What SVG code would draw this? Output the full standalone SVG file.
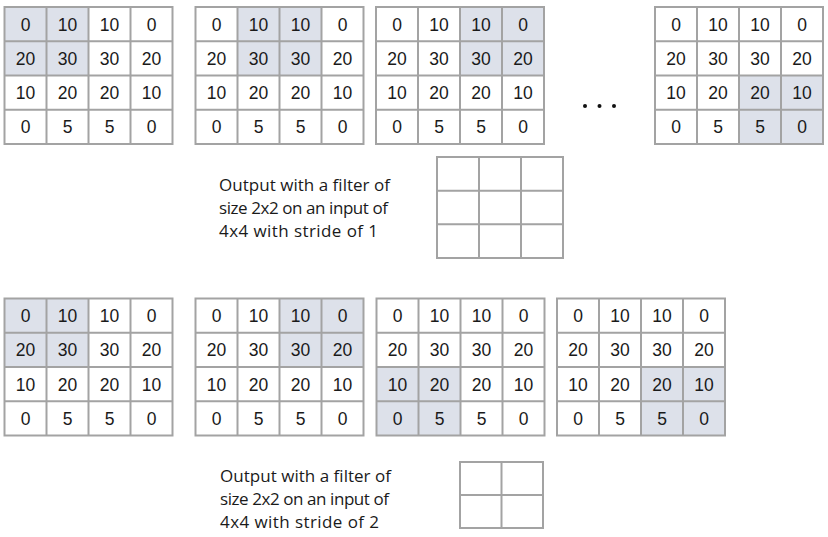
<svg xmlns="http://www.w3.org/2000/svg" xmlns:xlink="http://www.w3.org/1999/xlink" width="828" height="537" viewBox="0 0 828 537">
<style>
.bg{fill:#ffffff}
.sh{fill:#dde1ea}
.ln{fill:none;stroke:#a3a3a3;stroke-width:2}
.n{font-family:"Liberation Sans",Arial,sans-serif;font-size:17.5px;fill:#1a1a1a;text-anchor:middle}
.lb{font-family:"Open Sans","Noto Sans",sans-serif;font-size:17px;fill:#1a1a1a}
</style>
<defs>
<g id="g4">
<rect class="ln" x="0" y="0" width="168" height="137"/>
<path class="ln" d="M42,0V137M84,0V137M126,0V137M0,34.25H168M0,68.5H168M0,102.75H168"/>
</g>
<g id="nums">
<text class="n" x="21" y="23.5">0</text><text class="n" x="63" y="23.5">10</text><text class="n" x="105" y="23.5">10</text><text class="n" x="147" y="23.5">0</text>
<text class="n" x="21" y="57.5">20</text><text class="n" x="63" y="57.5">30</text><text class="n" x="105" y="57.5">30</text><text class="n" x="147" y="57.5">20</text>
<text class="n" x="21" y="92">10</text><text class="n" x="63" y="92">20</text><text class="n" x="105" y="92">20</text><text class="n" x="147" y="92">10</text>
<text class="n" x="21" y="126">0</text><text class="n" x="63" y="126">5</text><text class="n" x="105" y="126">5</text><text class="n" x="147" y="126">0</text>
</g>
</defs>
<rect width="828" height="537" fill="#ffffff"/>

<g id="top1" transform="translate(4.5,7)">
<rect class="sh" x="0" y="0" width="84" height="68.5"/>
<use xlink:href="#nums"/><use xlink:href="#g4"/>
</g>
<g id="top2" transform="translate(195.5,7)">
<rect class="sh" x="42" y="0" width="84" height="68.5"/>
<use xlink:href="#nums"/><use xlink:href="#g4"/>
</g>
<g id="top3" transform="translate(376,7)">
<rect class="sh" x="84" y="0" width="84" height="68.5"/>
<use xlink:href="#nums"/><use xlink:href="#g4"/>
</g>
<g id="ellipsis">
<circle cx="585" cy="106" r="2" fill="#111"/>
<circle cx="599.5" cy="106" r="2" fill="#111"/>
<circle cx="614" cy="106" r="2" fill="#111"/>
</g>
<g id="top4" transform="translate(655,7)">
<rect class="sh" x="84" y="68.5" width="84" height="68.5"/>
<use xlink:href="#nums"/><use xlink:href="#g4"/>
</g>

<g id="label1">
<text class="lb" x="219" y="191" textLength="171">Output with a filter of</text>
<text class="lb" x="219" y="214" textLength="169">size 2x2 on an input of</text>
<text class="lb" x="219" y="237" textLength="159">4x4 with stride of 1</text>
</g>
<g id="out3x3">
<rect class="ln" x="437" y="157" width="126" height="101"/>
<path class="ln" d="M479,157V258M521,157V258M437,190.7H563M437,224.3H563"/>
</g>

<g id="bot1" transform="translate(4.5,298.5)">
<rect class="sh" x="0" y="0" width="84" height="68.5"/>
<use xlink:href="#nums"/><use xlink:href="#g4"/>
</g>
<g id="bot2" transform="translate(195.5,298.5)">
<rect class="sh" x="84" y="0" width="84" height="68.5"/>
<use xlink:href="#nums"/><use xlink:href="#g4"/>
</g>
<g id="bot3" transform="translate(376.5,298.5)">
<rect class="sh" x="0" y="68.5" width="84" height="68.5"/>
<use xlink:href="#nums"/><use xlink:href="#g4"/>
</g>
<g id="bot4" transform="translate(557,298.5)">
<rect class="sh" x="84" y="68.5" width="84" height="68.5"/>
<use xlink:href="#nums"/><use xlink:href="#g4"/>
</g>

<g id="label2">
<text class="lb" x="220" y="482" textLength="171">Output with a filter of</text>
<text class="lb" x="220" y="505" textLength="169">size 2x2 on an input of</text>
<text class="lb" x="220" y="528" textLength="159">4x4 with stride of 2</text>
</g>
<g id="out2x2">
<rect class="ln" x="460" y="462" width="83" height="66"/>
<path class="ln" d="M501.5,462V528M460,495H543"/>
</g>
<g id="connectors"/>
</svg>
